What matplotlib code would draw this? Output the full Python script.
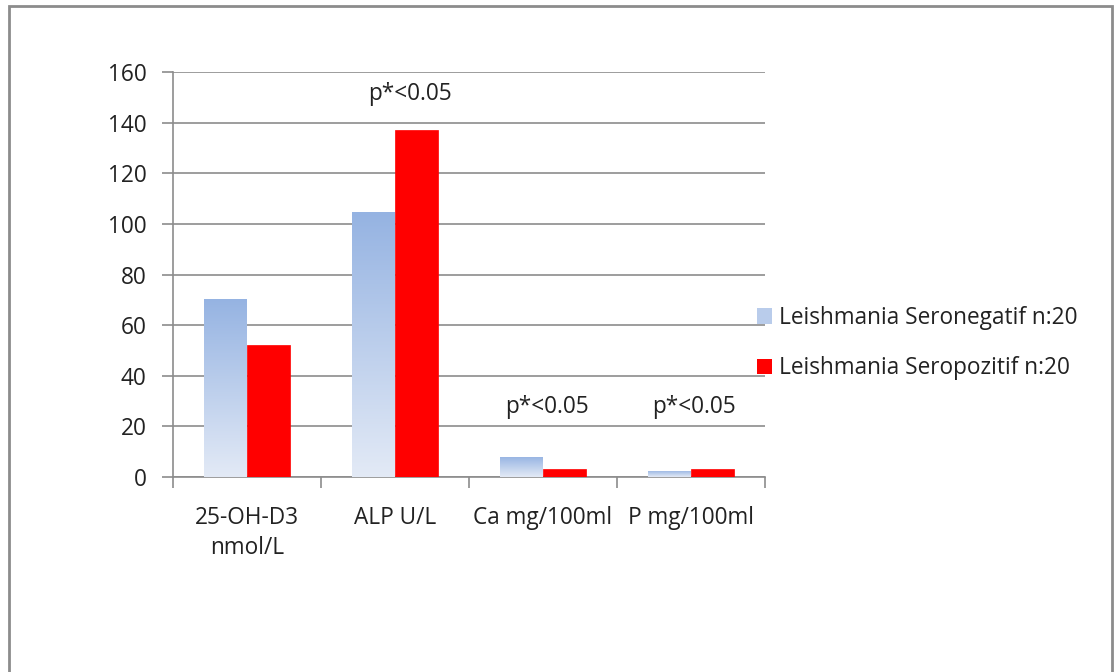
import matplotlib
matplotlib.use("Agg")
import matplotlib.pyplot as plt
import numpy as np
from matplotlib.colors import LinearSegmentedColormap
from matplotlib.patches import Rectangle, Patch
from matplotlib.ticker import FixedLocator

categories = ["25-OH-D3\nnmol/L", "ALP U/L", "Ca mg/100ml", "P mg/100ml"]
seronegatif = [70.5, 104.6, 8.0, 2.5]
seropozitif = [52.0, 137.2, 3.0, 3.1]
series_names = ["Leishmania Seronegatif n:20", "Leishmania Seropozitif n:20"]
annotations = ["", "p*<0.05", "p*<0.05", "p*<0.05"]
annot_y = [None, 151.5, 27.5, 27.5]
yticks = [0, 20, 40, 60, 80, 100, 120, 140, 160]

plt.rcParams['font.family'] = ['Open Sans', 'DejaVu Sans']
W, H = 1118, 672
FS = 16.3
fig = plt.figure(figsize=(W / 100, H / 100), dpi=100)
ax = fig.add_axes([173 / W, 1 - 477 / H, (765 - 173) / W, (477 - 72) / H])

x = np.arange(len(categories))
bw = 0.29
blue_bars = ax.bar(x - bw / 2, seronegatif, width=bw, color='none', edgecolor='none', zorder=3)
red_bars = ax.bar(x + bw / 2, seropozitif, width=bw, color='#FF0000', edgecolor='#FF0000', linewidth=0.5, zorder=3)

cmap = LinearSegmentedColormap.from_list('bl', ['#E3EAF6', '#95B3E2'])
grad = np.linspace(0, 1, 256).reshape(-1, 1)
for b in blue_bars:
    x0, y0, w, h = b.get_x(), b.get_y(), b.get_width(), b.get_height()
    im = ax.imshow(grad, cmap=cmap, origin='lower', aspect='auto',
                   extent=[x0, x0 + w, 0, max(h, 1e-6)], zorder=3)
    clip = Rectangle((x0, y0), w, h, transform=ax.transData)
    im.set_clip_path(clip)

ax.set_xlim(-0.5, len(categories) - 0.5)
ax.set_ylim(0, 160)
ax.set_yticks(yticks)
ax.set_yticklabels([str(v) for v in yticks])
ax.yaxis.grid(True, color='#8C8C8C', linewidth=1.2, zorder=0)
ax.set_axisbelow(True)

ax.set_xticks(x)
ax.set_xticklabels(categories, linespacing=1.3)
ax.xaxis.set_minor_locator(FixedLocator(np.arange(-0.5, len(categories), 1.0)))
ax.tick_params(axis='x', which='major', length=0, pad=21, labelsize=FS, colors='#222222')
ax.tick_params(axis='x', which='minor', length=8, width=1.2, color='#8C8C8C')
ax.tick_params(axis='y', length=8, width=1.2, color='#8C8C8C', pad=11, labelsize=FS, labelcolor='#222222')

for s in ['top', 'right']:
    ax.spines[s].set_visible(False)
for s in ['left', 'bottom']:
    ax.spines[s].set_color('#8C8C8C')
    ax.spines[s].set_linewidth(1.2)

offs = [0, 0.1, 0.03, 0.02]
for i, (t, yv) in enumerate(zip(annotations, annot_y)):
    if t:
        ax.text(i + offs[i], yv, t, ha='center', va='center', fontsize=FS, color='#222222')

handles = [Patch(facecolor='#B9CCEB', edgecolor='none'), Patch(facecolor='#FF0000', edgecolor='none')]
fig.legend(handles, series_names, loc='center left', bbox_to_anchor=(748 / W, 1 - 343 / H),
           frameon=False, fontsize=FS, handlelength=0.65, handleheight=0.65,
           handletextpad=0.3, labelspacing=1.15, labelcolor='#222222', borderaxespad=0)

fig.add_artist(Rectangle((9 / W, -0.1), (1112 - 9) / W, 1.1 - 6 / H, transform=fig.transFigure,
                         fill=False, edgecolor='#8C8C8C', linewidth=2))

fig.savefig('out.png', dpi=100)
